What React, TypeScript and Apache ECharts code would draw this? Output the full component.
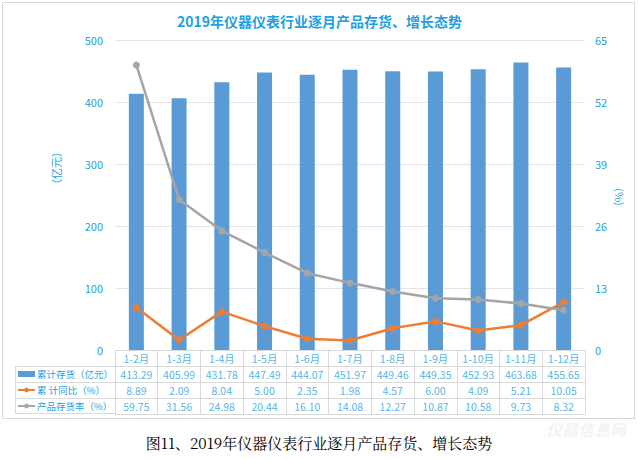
import React, { useEffect, useRef } from "react";
import * as echarts from "echarts";

const categories = ["1-2月", "1-3月", "1-4月", "1-5月", "1-6月", "1-7月", "1-8月", "1-9月", "1-10月", "1-11月", "1-12月"];
const inventory = [413.29, 405.99, 431.78, 447.49, 444.07, 451.97, 449.46, 449.35, 452.93, 463.68, 455.65];
const yoy = [8.89, 2.09, 8.04, 5.0, 2.35, 1.98, 4.57, 6.0, 4.09, 5.21, 10.05];
const invRate = [59.75, 31.56, 24.98, 20.44, 16.1, 14.08, 12.27, 10.87, 10.58, 9.73, 8.32];
const seriesNames = ["累计存货（亿元）", "累 计同比（%）", "产品存货率（%）"];
const leftTicks = { min: 0, max: 500, interval: 100 };
const rightTicks = { min: 0, max: 65, interval: 13 };

const BLUE_TXT = "#1DA1DF";
const GRID_C = "#D9D9D9";
const FONT = "'Noto Sans CJK SC', 'Open Sans', sans-serif";

export default function App() {
  const ref = useRef<HTMLDivElement>(null);
  useEffect(() => {
    if (!ref.current) return;
    const chart = echarts.init(ref.current, undefined, { renderer: "svg" });

    const tableData: any[] = [];
    categories.forEach((c, i) => {
      tableData.push([i, 0.5, c]);
      tableData.push([i, 1.5, inventory[i].toFixed(2)]);
      tableData.push([i, 2.5, yoy[i].toFixed(2)]);
      tableData.push([i, 3.5, invRate[i].toFixed(2)]);
    });

    const lineStyleGray = { stroke: GRID_C, lineWidth: 1 };
    const option: any = {
      animation: false,
      backgroundColor: "#fff",
      textStyle: { fontFamily: FONT },
      title: {
        text: "2019年仪器仪表行业逐月产品存货、增长态势",
        left: "center",
        top: 9,
        textStyle: { color: BLUE_TXT, fontSize: 14, fontWeight: "bold", fontFamily: FONT },
      },
      legend: {
        orient: "vertical",
        left: 17,
        top: 367,
        itemWidth: 17,
        itemHeight: 6,
        itemGap: 2,
        padding: 0,
        textStyle: { color: BLUE_TXT, fontSize: 9.5, lineHeight: 14, padding: [0, 0, 0, -3], fontFamily: FONT },
        data: [
          { name: seriesNames[0], icon: "rect" },
          { name: seriesNames[1] },
          { name: seriesNames[2] },
        ],
      },
      grid: [
        { left: 115, top: 40, width: 470, height: 310 },
        { left: 115, top: 350, width: 470, height: 64 },
      ],
      xAxis: [
        {
          type: "category",
          gridIndex: 0,
          data: categories,
          axisLine: { show: false },
          axisTick: { show: false },
          axisLabel: { show: false },
        },
        {
          type: "category",
          gridIndex: 1,
          data: categories,
          boundaryGap: true,
          axisLine: { show: false },
          axisTick: { show: false },
          axisLabel: { show: false },
          splitLine: { show: true, interval: 0, lineStyle: { color: GRID_C, width: 1 } },
        },
      ],
      yAxis: [
        {
          type: "value",
          gridIndex: 0,
          ...leftTicks,
          axisLine: { show: false },
          axisTick: { show: false },
          axisLabel: { color: BLUE_TXT, fontSize: 11, margin: 12, fontFamily: FONT },
          splitLine: { lineStyle: { color: "#E3E3E3", width: 1 } },
        },
        {
          type: "value",
          gridIndex: 0,
          position: "right",
          ...rightTicks,
          axisLine: { show: false },
          axisTick: { show: false },
          axisLabel: { color: BLUE_TXT, fontSize: 11, margin: 10, fontFamily: FONT },
          splitLine: { show: false },
        },
        {
          type: "value",
          gridIndex: 1,
          min: 0,
          max: 4,
          interval: 1,
          inverse: true,
          axisLine: { show: false },
          axisTick: { show: false },
          axisLabel: { show: false },
          splitLine: { show: true, lineStyle: { color: GRID_C, width: 1 } },
        },
      ],
      series: [
        {
          name: seriesNames[0],
          type: "bar",
          xAxisIndex: 0,
          yAxisIndex: 0,
          data: inventory,
          barWidth: 15,
          itemStyle: { color: "#5B9BD5" },
        },
        {
          name: seriesNames[1],
          type: "line",
          xAxisIndex: 0,
          yAxisIndex: 1,
          data: yoy,
          symbol: "circle",
          symbolSize: 7,
          lineStyle: { color: "#ED7D31", width: 2.5 },
          itemStyle: { color: "#ED7D31" },
        },
        {
          name: seriesNames[2],
          type: "line",
          xAxisIndex: 0,
          yAxisIndex: 1,
          data: invRate,
          symbol: "circle",
          symbolSize: 7,
          lineStyle: { color: "#A5A5A5", width: 2.5 },
          itemStyle: { color: "#A5A5A5" },
        },
        {
          name: "table",
          type: "scatter",
          xAxisIndex: 1,
          yAxisIndex: 2,
          data: tableData,
          symbolSize: 0,
          silent: true,
          label: {
            show: true,
            position: "inside",
            formatter: (p: any) => p.value[2],
            color: BLUE_TXT,
            fontSize: 10.5,
            fontFamily: FONT,
          },
        },
      ],
      graphic: [
        {
          type: "rect",
          shape: { x: 2.5, y: 2.5, width: 632, height: 416 },
          style: { fill: "none", stroke: GRID_C, lineWidth: 1 },
          silent: true,
          z: -1,
        },
        { type: "line", shape: { x1: 15.5, y1: 366, x2: 15.5, y2: 414 }, style: lineStyleGray },
        { type: "line", shape: { x1: 15, y1: 366.5, x2: 115, y2: 366.5 }, style: lineStyleGray },
        { type: "line", shape: { x1: 15, y1: 382.5, x2: 115, y2: 382.5 }, style: lineStyleGray },
        { type: "line", shape: { x1: 15, y1: 398.5, x2: 115, y2: 398.5 }, style: lineStyleGray },
        { type: "line", shape: { x1: 15, y1: 413.5, x2: 115, y2: 413.5 }, style: lineStyleGray },
        {
          type: "text",
          x: 56,
          y: 168,
          rotation: Math.PI / 2,
          style: { text: "（亿元）", fill: BLUE_TXT, font: `11px ${FONT}`, align: "center", verticalAlign: "middle" },
        },
        {
          type: "text",
          x: 620,
          y: 197,
          rotation: -Math.PI / 2,
          style: { text: "(%)", fill: BLUE_TXT, font: `11px ${FONT}`, align: "center", verticalAlign: "middle" },
        },
        {
          type: "text",
          x: 319,
          y: 442,
          style: {
            text: "图11、2019年仪器仪表行业逐月产品存货、增长态势",
            fill: "#000",
            font: "15px 'Noto Serif CJK SC', 'DejaVu Serif', serif",
            align: "center",
            verticalAlign: "middle",
          },
        },
        {
          type: "text",
          x: 586,
          y: 429,
          style: {
            text: "仪器信息网",
            fill: "#F3F3F3",
            font: `italic bold 16px ${FONT}`,
            align: "center",
            verticalAlign: "middle",
          },
        },
      ],
    };
    chart.setOption(option);
    return () => chart.dispose();
  }, []);
  return <div ref={ref} style={{ position: "fixed", left: 0, top: 0, width: 639, height: 459 }} />;
}
